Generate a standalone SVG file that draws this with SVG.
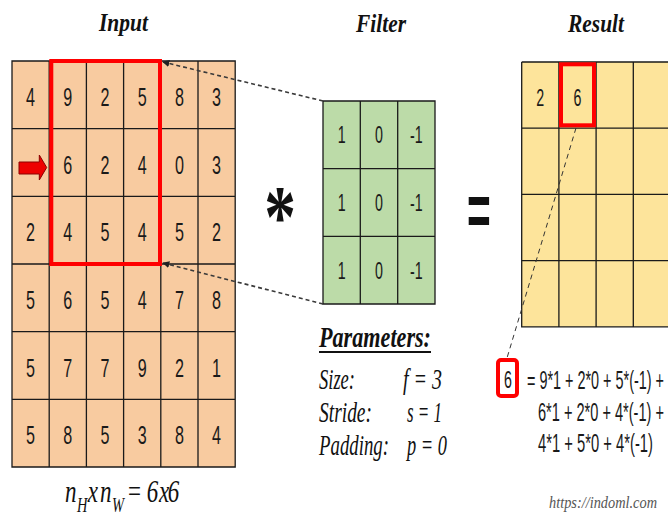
<svg xmlns="http://www.w3.org/2000/svg" width="668" height="516" viewBox="0 0 668 516">
<defs>
<style>
.title{font-family:"Liberation Serif",serif;font-weight:bold;font-style:italic;font-size:26px;fill:#111;}
.d{font-family:"Liberation Sans",Arial,sans-serif;font-size:26px;fill:#1a1a1a;text-anchor:middle;}
.df{font-family:"Liberation Sans",Arial,sans-serif;font-size:23px;fill:#1a1a1a;text-anchor:middle;}
.grid{stroke:#1a1a1a;stroke-width:1.3;fill:none;}
.par{font-family:"Liberation Serif",serif;font-style:italic;font-size:30px;fill:#111;}
.frm{font-family:"Liberation Sans",Arial,sans-serif;font-size:25px;fill:#1a1a1a;}
.dash{stroke:#3a3a3a;stroke-width:1.6;stroke-dasharray:4 3;fill:none;}
.lbl{font-family:"Liberation Serif",serif;font-style:italic;font-size:32px;fill:#111;}
</style>
<marker id="ah" viewBox="0 0 10 10" refX="9" refY="5" markerWidth="7" markerHeight="7" orient="auto-start-reverse" markerUnits="userSpaceOnUse">
<path d="M0,0 L10,5 L0,10 z" fill="#222"/>
</marker>
</defs>
<rect width="668" height="516" fill="#fff"/>

<g id="titles">
<text class="title" x="99" y="31" textLength="49" lengthAdjust="spacingAndGlyphs">Input</text>
<text class="title" x="356" y="32" textLength="50" lengthAdjust="spacingAndGlyphs">Filter</text>
<text class="title" x="568" y="32" textLength="56" lengthAdjust="spacingAndGlyphs">Result</text>
</g>

<g id="input-grid">
<rect x="12" y="61" width="223.2" height="406" fill="#f8cba0"/>
<path class="grid" d="M12,61H235.2V467H12Z M49.2,61V467 M86.4,61V467 M123.6,61V467 M160.8,61V467 M198,61V467 M12,128.7H235.2 M12,196.3H235.2 M12,264H235.2 M12,331.7H235.2 M12,399.3H235.2"/>
<g>
<text class="d" transform="translate(30.6,106) scale(0.62,1)">4</text>
<text class="d" transform="translate(67.8,106) scale(0.62,1)">9</text>
<text class="d" transform="translate(105,106) scale(0.62,1)">2</text>
<text class="d" transform="translate(142.2,106) scale(0.62,1)">5</text>
<text class="d" transform="translate(179.4,106) scale(0.62,1)">8</text>
<text class="d" transform="translate(216.6,106) scale(0.62,1)">3</text>

<text class="d" transform="translate(67.8,173.5) scale(0.62,1)">6</text>
<text class="d" transform="translate(105,173.5) scale(0.62,1)">2</text>
<text class="d" transform="translate(142.2,173.5) scale(0.62,1)">4</text>
<text class="d" transform="translate(179.4,173.5) scale(0.62,1)">0</text>
<text class="d" transform="translate(216.6,173.5) scale(0.62,1)">3</text>

<text class="d" transform="translate(30.6,241.2) scale(0.62,1)">2</text>
<text class="d" transform="translate(67.8,241.2) scale(0.62,1)">4</text>
<text class="d" transform="translate(105,241.2) scale(0.62,1)">5</text>
<text class="d" transform="translate(142.2,241.2) scale(0.62,1)">4</text>
<text class="d" transform="translate(179.4,241.2) scale(0.62,1)">5</text>
<text class="d" transform="translate(216.6,241.2) scale(0.62,1)">2</text>

<text class="d" transform="translate(30.6,308.8) scale(0.62,1)">5</text>
<text class="d" transform="translate(67.8,308.8) scale(0.62,1)">6</text>
<text class="d" transform="translate(105,308.8) scale(0.62,1)">5</text>
<text class="d" transform="translate(142.2,308.8) scale(0.62,1)">4</text>
<text class="d" transform="translate(179.4,308.8) scale(0.62,1)">7</text>
<text class="d" transform="translate(216.6,308.8) scale(0.62,1)">8</text>

<text class="d" transform="translate(30.6,376.5) scale(0.62,1)">5</text>
<text class="d" transform="translate(67.8,376.5) scale(0.62,1)">7</text>
<text class="d" transform="translate(105,376.5) scale(0.62,1)">7</text>
<text class="d" transform="translate(142.2,376.5) scale(0.62,1)">9</text>
<text class="d" transform="translate(179.4,376.5) scale(0.62,1)">2</text>
<text class="d" transform="translate(216.6,376.5) scale(0.62,1)">1</text>

<text class="d" transform="translate(30.6,444) scale(0.62,1)">5</text>
<text class="d" transform="translate(67.8,444) scale(0.62,1)">8</text>
<text class="d" transform="translate(105,444) scale(0.62,1)">5</text>
<text class="d" transform="translate(142.2,444) scale(0.62,1)">3</text>
<text class="d" transform="translate(179.4,444) scale(0.62,1)">8</text>
<text class="d" transform="translate(216.6,444) scale(0.62,1)">4</text>
</g>
<rect x="51.3" y="61" width="108.7" height="203" fill="none" stroke="#ff0000" stroke-width="4"/>
<polygon points="19,162 39.3,162 39.3,155 46.7,167.5 39.3,180 39.3,174 19,174" fill="#ee0000" stroke="#8b0000" stroke-width="1"/>
</g>

<g id="filter-grid">
<rect x="323" y="101" width="112" height="203" fill="#bcdba8"/>
<path class="grid" d="M323,101H435V304H323Z M360.3,101V304 M397.7,101V304 M323,168.7H435 M323,236.3H435"/>
<text class="df" transform="translate(341.7,143.3) scale(0.62,1)">1</text>
<text class="df" transform="translate(379,143.3) scale(0.62,1)">0</text>
<text class="df" transform="translate(416.3,143.3) scale(0.62,1)">-1</text>
<text class="df" transform="translate(341.7,211) scale(0.62,1)">1</text>
<text class="df" transform="translate(379,211) scale(0.62,1)">0</text>
<text class="df" transform="translate(416.3,211) scale(0.62,1)">-1</text>
<text class="df" transform="translate(341.7,278.7) scale(0.62,1)">1</text>
<text class="df" transform="translate(379,278.7) scale(0.62,1)">0</text>
<text class="df" transform="translate(416.3,278.7) scale(0.62,1)">-1</text>
</g>

<g id="operators">
<text transform="translate(280,246) scale(0.72,1)" text-anchor="middle" font-family="'Liberation Serif',serif" font-weight="bold" font-size="88" fill="#111">*</text>
<text transform="translate(479,235.6) scale(0.55,1)" text-anchor="middle" font-family="'Liberation Sans',Arial,sans-serif" font-weight="bold" font-size="74" fill="#111">=</text>
</g>

<g id="result-grid">
<rect x="521.7" y="62" width="150" height="264.8" fill="#fde49b"/>
<path class="grid" d="M521.7,62H670.5 M521.7,62V326.8H670.5 M558.9,62V326.8 M596.1,62V326.8 M633.3,62V326.8 M521.7,128.2H670.5 M521.7,194.4H670.5 M521.7,260.6H670.5"/>
<text class="df" transform="translate(540.3,106) scale(0.62,1)">2</text>
<text class="df" transform="translate(577.5,106) scale(0.62,1)">6</text>
<rect x="561" y="64.3" width="33" height="61" fill="none" stroke="#ff0000" stroke-width="4"/>
</g>

<g id="parameters">
<text class="par" x="319" y="347" font-weight="bold" font-size="28" textLength="112" lengthAdjust="spacingAndGlyphs">Parameters:</text>
<rect x="319" y="351" width="112" height="2" fill="#111"/>
<text class="par" x="319" y="389" textLength="36" lengthAdjust="spacingAndGlyphs">Size:</text>
<text class="par" x="403" y="389" textLength="39" lengthAdjust="spacingAndGlyphs">f = 3</text>
<text class="par" x="319" y="422" textLength="53" lengthAdjust="spacingAndGlyphs">Stride:</text>
<text class="par" x="407" y="422" textLength="35" lengthAdjust="spacingAndGlyphs">s = 1</text>
<text class="par" x="319" y="455" textLength="70" lengthAdjust="spacingAndGlyphs">Padding:</text>
<text class="par" x="407" y="455" textLength="40" lengthAdjust="spacingAndGlyphs">p = 0</text>
</g>

<g id="formula">
<rect x="498" y="360" width="19" height="36" rx="3" fill="#fff" stroke="#ff0000" stroke-width="4"/>
<text class="df" transform="translate(508,388) scale(0.62,1)">6</text>
<text class="frm" x="527" y="389" textLength="137" lengthAdjust="spacingAndGlyphs">= 9*1 + 2*0 + 5*(-1) +</text>
<text class="frm" x="538" y="421" textLength="126" lengthAdjust="spacingAndGlyphs">6*1 + 2*0 + 4*(-1) +</text>
<text class="frm" x="538" y="452" textLength="115" lengthAdjust="spacingAndGlyphs">4*1 + 5*0 + 4*(-1)</text>
</g>

<g id="size-label">
<g transform="translate(0,502) scale(0.72,1)">
<text class="lbl"><tspan x="90.3">n</tspan><tspan x="107" dy="10" font-size="20">H</tspan><tspan x="122" dy="-10">x</tspan><tspan x="138.9">n</tspan><tspan x="155.6" dy="10" font-size="20">W</tspan><tspan x="177.8" dy="-10" font-style="normal">=</tspan><tspan x="204">6</tspan><tspan x="221">x</tspan><tspan x="233">6</tspan></text>
</g>
</g>

<g id="url">
<text x="549" y="508" font-family="'Liberation Serif',serif" font-style="italic" font-size="17" fill="#555" textLength="108" lengthAdjust="spacingAndGlyphs">https://indoml.com</text>
</g>

<g id="connectors">
<line class="dash" x1="323" y1="101" x2="163" y2="62" marker-end="url(#ah)"/>
<line class="dash" x1="323" y1="304" x2="163" y2="263" marker-end="url(#ah)"/>
<line x1="576" y1="128" x2="507" y2="358" stroke="#333" stroke-width="1" stroke-dasharray="5 4"/>
</g>
</svg>
